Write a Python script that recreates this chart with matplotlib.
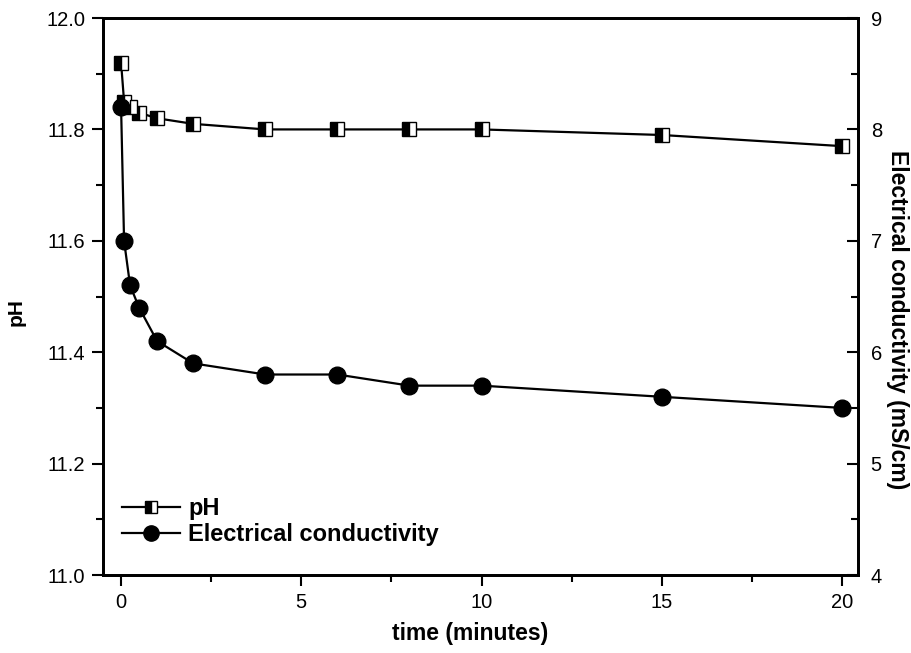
import matplotlib
matplotlib.use("Agg")
import matplotlib.pyplot as plt
from matplotlib.ticker import MultipleLocator, FormatStrFormatter

plt.rcParams['font.family'] = ['Liberation Sans', 'DejaVu Sans']

# data
time_min = [0, 0.083, 0.25, 0.5, 1, 2, 4, 6, 8, 10, 15, 20]
ph = [11.92, 11.85, 11.84, 11.83, 11.82, 11.81, 11.80, 11.80, 11.80, 11.80, 11.79, 11.77]
conductivity = [8.2, 7.0, 6.6, 6.4, 6.1, 5.9, 5.8, 5.8, 5.7, 5.7, 5.6, 5.5]

fig = plt.figure(figsize=(9.12, 6.53), dpi=100)
ax = fig.add_axes([0.113, 0.1194, 0.828, 0.853])
ax2 = ax.twinx()

l1, = ax.plot(time_min, ph, color='black', lw=1.6, marker='s', ms=10,
              fillstyle='left', markerfacecolor='black', markerfacecoloralt='white',
              markeredgecolor='black', markeredgewidth=1.0, label='pH', zorder=3)
l2, = ax2.plot(time_min, conductivity, color='black', lw=1.6, marker='o', ms=12,
               markerfacecolor='black', markeredgecolor='black',
               label='Electrical conductivity', zorder=3)

ax.set_xlim(-0.5, 20.45)
ax.set_ylim(11.0, 12.0)
ax2.set_ylim(4, 9)

ax.xaxis.set_major_locator(MultipleLocator(5))
ax.xaxis.set_minor_locator(MultipleLocator(2.5))
ax.yaxis.set_major_locator(MultipleLocator(0.2))
ax.yaxis.set_minor_locator(MultipleLocator(0.1))
ax2.yaxis.set_major_locator(MultipleLocator(1))
ax2.yaxis.set_minor_locator(MultipleLocator(0.5))
ax.yaxis.set_major_formatter(FormatStrFormatter('%.1f'))

for a in (ax, ax2):
    for s in a.spines.values():
        s.set_linewidth(2)
ax.tick_params(axis='both', which='major', direction='out', length=8, width=1.5,
               labelsize=14.5, pad=5, top=False)
ax.tick_params(axis='both', which='minor', direction='out', length=5, width=1.5, top=False)
ax2.tick_params(axis='y', which='major', direction='in', length=8, width=1.5,
                labelsize=14.5, pad=9)
ax2.tick_params(axis='y', which='minor', direction='in', length=5, width=1.5)

ax.set_xlabel('time (minutes)', fontsize=16.5, fontweight='bold')
ax.xaxis.set_label_coords(0.486, -0.084)
ax.set_ylabel('pH', fontsize=15, fontweight='bold')
ax.yaxis.set_label_coords(-0.103, 0.472)
ax2.set_ylabel('Electrical conductivity (mS/cm)', fontsize=16.5, fontweight='bold',
               rotation=270, va='bottom')
ax2.yaxis.set_label_coords(1.037, 0.458)

leg = ax.legend(handles=[l1, l2], loc='center left', bbox_to_anchor=(0.025, 0.096),
                frameon=False, borderpad=0, borderaxespad=0,
                handlelength=2.45, handletextpad=0.35, labelspacing=0.15,
                prop={'weight': 'bold', 'size': 17})
for h in leg.legend_handles:
    h.set_markersize(9 if h.get_marker() == 's' else 11)

fig.savefig('out.png', dpi=100)
